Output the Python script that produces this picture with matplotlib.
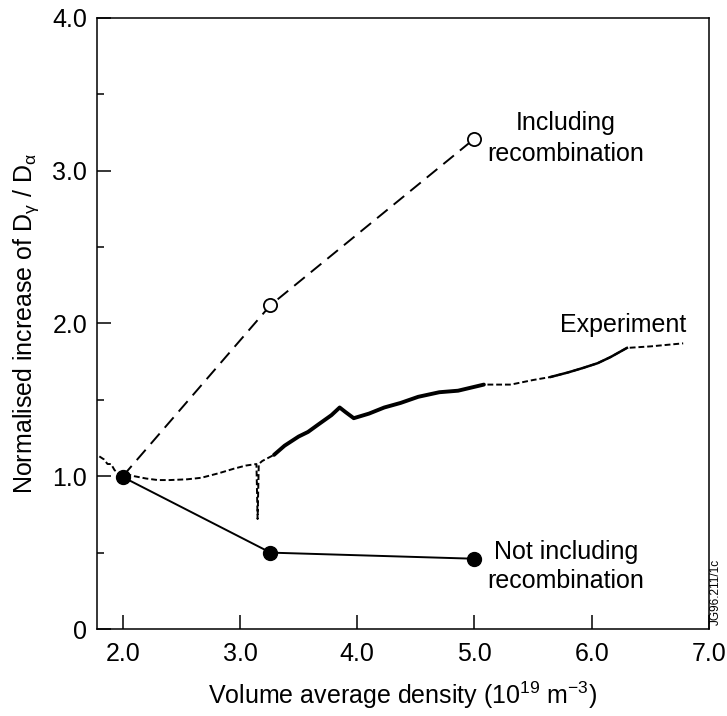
import matplotlib
matplotlib.use("Agg")
import matplotlib.pyplot as plt
from matplotlib.ticker import MultipleLocator
import numpy as np

plt.rcParams['font.family'] = ['Liberation Sans', 'DejaVu Sans']
plt.rcParams['mathtext.fontset'] = 'custom'
plt.rcParams['mathtext.rm'] = 'Liberation Sans'
plt.rcParams['mathtext.it'] = 'Liberation Sans'

# Model points
dens_model = [2.0, 3.26, 5.0]
incl_recomb = [1.0, 2.12, 3.21]
not_incl_recomb = [0.995, 0.50, 0.46]

# Experimental trace
exp_x = [1.80, 1.84, 1.87, 1.90, 1.93, 1.96, 2.00, 2.05, 2.10, 2.20, 2.30, 2.40,
         2.55, 2.67, 2.82, 2.95, 3.05, 3.14, 3.15, 3.16, 3.19, 3.29, 3.38, 3.50,
         3.58, 3.67, 3.78, 3.85, 3.90, 3.97, 4.10, 4.23, 4.37, 4.52, 4.70, 4.86,
         5.08, 5.31, 5.50, 5.65, 5.80, 5.93, 6.05, 6.16, 6.30, 6.50, 6.78]
exp_y = [1.13, 1.11, 1.08, 1.08, 1.04, 1.02, 1.00, 1.01, 1.00, 0.985, 0.975, 0.975,
         0.98, 0.99, 1.02, 1.05, 1.07, 1.08, 0.72, 1.08, 1.10, 1.14, 1.20, 1.26,
         1.29, 1.34, 1.40, 1.45, 1.42, 1.38, 1.41, 1.45, 1.48, 1.52, 1.55, 1.56,
         1.60, 1.60, 1.63, 1.65, 1.68, 1.71, 1.74, 1.78, 1.84, 1.85, 1.87]

fig = plt.figure(figsize=(7.27, 7.16), dpi=100)
ax = fig.add_axes([0.1334, 0.1215, 0.8418, 0.8534])

# experiment: dashed thin trace with thicker solid stretches
ex = np.array(exp_x)
ey = np.array(exp_y)
ax.plot(ex, ey, color='black', lw=1.4, linestyle=(0, (3, 1.5)))
thick = (ex >= 3.28) & (ex <= 5.1)
ax.plot(ex[thick], ey[thick], color='black', lw=2.8, solid_capstyle='round')
mid = (ex >= 5.6) & (ex <= 6.3)
ax.plot(ex[mid], ey[mid], color='black', lw=1.8)

# including recombination
ax.plot(dens_model, incl_recomb, color='black', lw=1.4, dashes=(7, 4))
ax.plot(dens_model[1:], incl_recomb[1:], 'o', color='black', ms=9.5,
        mfc='white', mec='black', mew=1.3)

# not including recombination
ax.plot(dens_model, not_incl_recomb, '-', color='black', lw=1.4)
ax.plot(dens_model, not_incl_recomb, 'o', color='black', ms=10)

ax.set_xlim(1.78, 7.0)
ax.set_ylim(0, 4.0)
ax.set_xticks([2, 3, 4, 5, 6, 7])
ax.set_xticklabels(['2.0', '3.0', '4.0', '5.0', '6.0', '7.0'])
ax.set_yticks([0, 1, 2, 3, 4])
ax.set_yticklabels(['0', '1.0', '2.0', '3.0', '4.0'])
ax.yaxis.set_minor_locator(MultipleLocator(0.5))
ax.tick_params(which='major', direction='in', length=10, width=1.1,
               labelsize=18, pad=7)
ax.tick_params(axis='y', which='minor', direction='in', length=5, width=1.1)
ax.tick_params(axis='x', pad=9)
for s in ax.spines.values():
    s.set_linewidth(1.1)

ax.set_xlabel('Volume average density (10$^{\\mathregular{19}}$ m$^{\\mathregular{-3}}$)',
              fontsize=18, labelpad=10)
ax.set_ylabel('Normalised increase of D$_{\\mathregular{γ}}$ / D$_{\\mathregular{α}}$',
              fontsize=18, labelpad=8)

ax.text(5.78, 3.21, 'Including\nrecombination', fontsize=18, ha='center',
        va='center', linespacing=1.35)
ax.text(6.81, 1.99, 'Experiment', fontsize=18, ha='right', va='center')
ax.text(5.78, 0.41, 'Not including\nrecombination', fontsize=18, ha='center',
        va='center', linespacing=1.3)

fig.text(716 / 727, 1 - 592 / 716, 'JG96.211/1c', rotation=90, fontsize=8.5,
         ha='center', va='center')

fig.savefig('out.png', dpi=100)
